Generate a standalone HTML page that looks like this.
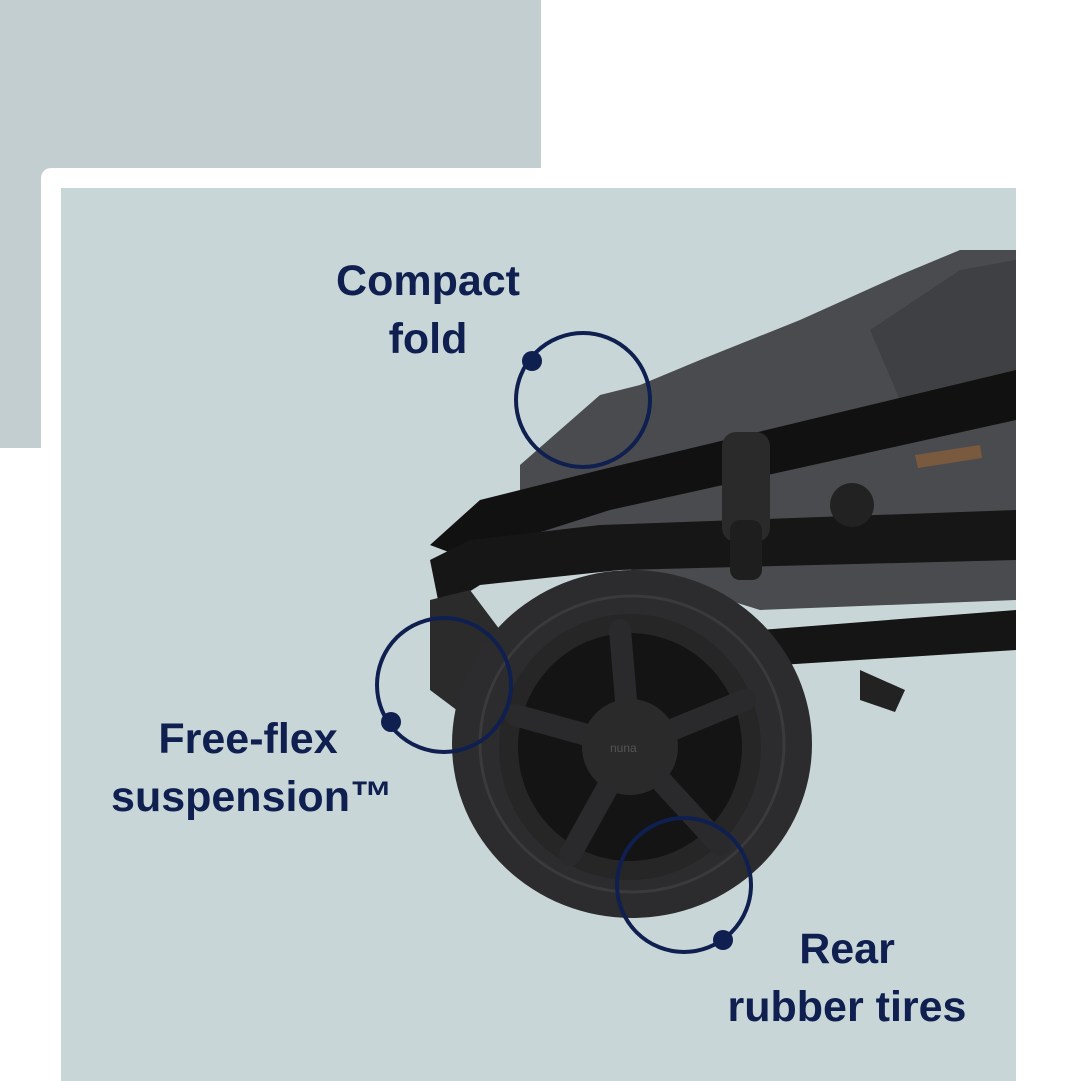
<!DOCTYPE html>
<html><head><meta charset="utf-8"><style>
html,body{margin:0;padding:0;width:1081px;height:1081px;overflow:hidden;background:#fff}
svg{display:block}
text{font-family:"Liberation Sans",sans-serif;fill:#0f1f4f;font-weight:bold}
</style></head><body>
<svg width="1081" height="1081" viewBox="0 0 1081 1081">
<rect x="0" y="0" width="541" height="448" fill="#c3ced1"/>
<rect x="41" y="168" width="1040" height="913" rx="10" fill="#fff"/>
<rect x="61" y="188" width="955" height="893" fill="#c9d6d8"/>
<!-- fabric -->
<path d="M520,465 L600,395 L640,385 L700,360 L800,320 L900,275 L960,250 L1016,250 L1016,600 L760,610 L600,560 L520,520 Z" fill="#4a4b4e"/>
<path d="M870,330 L960,270 L1016,260 L1016,420 L900,400 Z" fill="#3f4043"/>
<!-- frame tubes -->
<path d="M430,545 L480,500 L600,470 L1016,370 L1016,420 L610,510 L500,545 L470,560 Z" fill="#111"/>
<path d="M430,560 L470,540 L600,525 L1016,510 L1016,560 L620,570 L480,585 L440,610 Z" fill="#161616"/>
<path d="M760,630 L1016,610 L1016,650 L780,665 Z" fill="#151515"/>
<rect x="722" y="432" width="48" height="110" rx="14" fill="#2a2a2b"/>
<rect x="730" y="520" width="32" height="60" rx="10" fill="#1e1e1e"/>
<circle cx="852" cy="505" r="22" fill="#222"/>
<path d="M430,600 L470,590 L500,630 L470,720 L430,690 Z" fill="#2b2b2c"/>
<path d="M860,670 L905,690 L895,712 L860,700 Z" fill="#222"/>
<path d="M915,455 L980,445 L982,458 L918,468 Z" fill="#7a5a3e"/>
<!-- wheel -->
<ellipse cx="632" cy="744" rx="180" ry="174" fill="#2c2c2e"/>
<ellipse cx="632" cy="744" rx="152" ry="148" fill="none" stroke="#3a3a3c" stroke-width="3"/>
<ellipse cx="630" cy="747" rx="131" ry="133" fill="#262627"/>
<ellipse cx="630" cy="747" rx="112" ry="114" fill="#141415"/>
<g stroke="#2a2a2c" stroke-width="22" stroke-linecap="round">
<line x1="630" y1="747" x2="620" y2="630"/>
<line x1="630" y1="747" x2="745" y2="700"/>
<line x1="630" y1="747" x2="720" y2="845"/>
<line x1="630" y1="747" x2="570" y2="855"/>
<line x1="630" y1="747" x2="515" y2="715"/>
</g>
<ellipse cx="630" cy="747" rx="48" ry="48" fill="#2a2a2b"/>
<text x="610" y="752" style="font-size:12px;fill:#555;font-weight:normal">nuna</text>
<!-- callouts -->
<g fill="none" stroke="#0f1f4f" stroke-width="4">
<circle cx="583" cy="400" r="67"/>
<circle cx="444" cy="685" r="67"/>
<circle cx="684" cy="885" r="67"/>
</g>
<g fill="#0f1f4f">
<circle cx="532" cy="361" r="10"/>
<circle cx="391" cy="722" r="10"/>
<circle cx="723" cy="940" r="10"/>
</g>
<g style="font-size:43px" text-anchor="middle">
<text x="428" y="295">Compact</text>
<text x="428" y="353">fold</text>
<text x="248" y="753">Free-flex</text>
<text x="252" y="811">suspension™</text>
<text x="847" y="963">Rear</text>
<text x="847" y="1021">rubber tires</text>
</g>
</svg>
</body></html>
